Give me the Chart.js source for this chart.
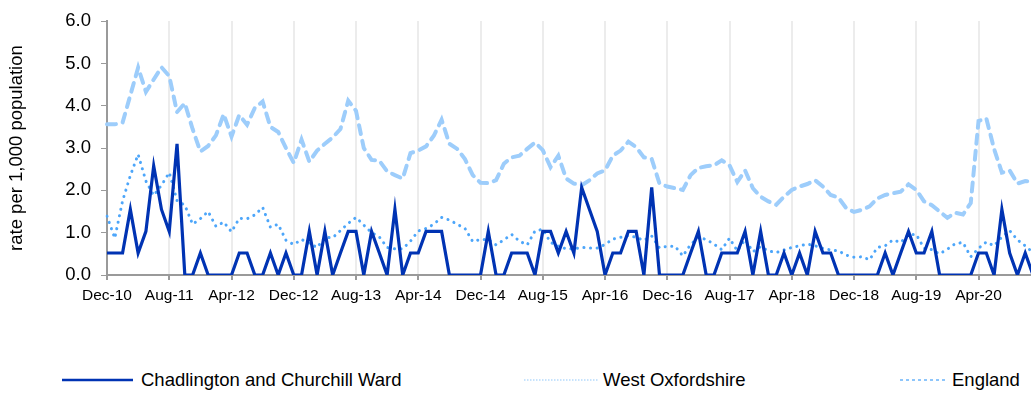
<!DOCTYPE html>
<html>
<head>
<meta charset="utf-8">
<script src="https://cdn.jsdelivr.net/npm/chart.js@4.4.1/dist/chart.umd.min.js"></script>
<style>
  html, body { margin: 0; padding: 0; background: #ffffff; overflow: hidden; width: 1031px; height: 395px; }
  #wrap { position: absolute; left: 0; top: 0; width: 1033px; height: 310px; }
  .key { position: absolute; font: 18.5px "Liberation Sans", Arial, sans-serif; color: #000; white-space: nowrap; line-height: 22px; }
  .swatch { position: absolute; }
</style>
</head>
<body>
<div id="wrap"><canvas id="chart" width="1033" height="310"></canvas></div>

<svg class="swatch" style="left:62px;top:372px" width="72" height="16">
  <line x1="0" y1="8" x2="71" y2="8" stroke="#0033b3" stroke-width="2.5"/>
</svg>
<div class="key" style="left:141px;top:369px">Chadlington and Churchill Ward</div>

<svg class="swatch" style="left:524px;top:372px" width="76" height="16">
  <line x1="0" y1="8" x2="75" y2="8" stroke="#b5dafc" stroke-width="1.5" stroke-dasharray="1.5 1.5"/>
</svg>
<div class="key" style="left:603px;top:369px">West Oxfordshire</div>

<svg class="swatch" style="left:900px;top:372px" width="50" height="16">
  <line x1="0" y1="8" x2="48" y2="8" stroke="#8ec6fb" stroke-width="2" stroke-dasharray="3 3"/>
</svg>
<div class="key" style="left:952px;top:369px">England</div>

<script>
// Monthly periods, Dec 2010 to Nov 2020
const months = [
  'Dec-10','Jan-11','Feb-11','Mar-11','Apr-11','May-11','Jun-11','Jul-11','Aug-11','Sep-11','Oct-11','Nov-11',
  'Dec-11','Jan-12','Feb-12','Mar-12','Apr-12','May-12','Jun-12','Jul-12','Aug-12','Sep-12','Oct-12','Nov-12',
  'Dec-12','Jan-13','Feb-13','Mar-13','Apr-13','May-13','Jun-13','Jul-13','Aug-13','Sep-13','Oct-13','Nov-13',
  'Dec-13','Jan-14','Feb-14','Mar-14','Apr-14','May-14','Jun-14','Jul-14','Aug-14','Sep-14','Oct-14','Nov-14',
  'Dec-14','Jan-15','Feb-15','Mar-15','Apr-15','May-15','Jun-15','Jul-15','Aug-15','Sep-15','Oct-15','Nov-15',
  'Dec-15','Jan-16','Feb-16','Mar-16','Apr-16','May-16','Jun-16','Jul-16','Aug-16','Sep-16','Oct-16','Nov-16',
  'Dec-16','Jan-17','Feb-17','Mar-17','Apr-17','May-17','Jun-17','Jul-17','Aug-17','Sep-17','Oct-17','Nov-17',
  'Dec-17','Jan-18','Feb-18','Mar-18','Apr-18','May-18','Jun-18','Jul-18','Aug-18','Sep-18','Oct-18','Nov-18',
  'Dec-18','Jan-19','Feb-19','Mar-19','Apr-19','May-19','Jun-19','Jul-19','Aug-19','Sep-19','Oct-19','Nov-19',
  'Dec-19','Jan-20','Feb-20','Mar-20','Apr-20','May-20','Jun-20','Jul-20','Aug-20','Sep-20','Oct-20','Nov-20'
];

// Months that carry a label on the x axis
const tickLabels = ['Dec-10','Aug-11','Apr-12','Dec-12','Aug-13','Apr-14','Dec-14','Aug-15',
                    'Apr-16','Dec-16','Aug-17','Apr-18','Dec-18','Aug-19','Apr-20'];

const yTicks = [0, 1, 2, 3, 4, 5, 6];

// Rate per 1,000 population
const chadlington = [
  0.52,0.52,0.52,1.55,0.52,1.03,2.58,1.55,1.03,3.10,0,0,
  0.52,0,0,0,0,0.52,0.52,0,0,0.52,0,0.52,
  0,0,1.03,0,1.03,0,0.52,1.03,1.03,0,1.03,0.52,
  0,1.55,0,0.52,0.52,1.03,1.03,1.03,0,0,0,0,
  0,1.03,0,0,0.52,0.52,0.52,0,1.03,1.03,0.52,1.03,
  0.52,2.07,1.55,1.03,0,0.52,0.52,1.03,1.03,0,2.07,0,
  0,0,0,0.52,1.03,0,0,0.52,0.52,0.52,1.03,0,
  1.03,0,0,0.52,0,0.52,0,1.03,0.52,0.52,0,0,
  0,0,0,0,0.52,0,0.52,1.03,0.52,0.52,1.03,0,
  0,0,0,0,0.52,0.52,0,1.55,0.52,0,0.52,0
];

const westOxfordshire = [
  1.39,0.87,1.75,2.35,2.85,2.22,1.88,2.12,2.42,1.76,1.65,1.2,
  1.33,1.5,1.15,1.25,1.02,1.34,1.33,1.42,1.6,1.13,1.2,0.82,
  0.72,0.84,0.75,0.65,0.89,0.88,1.05,1.22,1.36,1.18,1.0,0.9,
  0.65,0.62,0.62,0.8,1.04,1.1,1.2,1.36,1.3,1.2,1.1,0.79,
  0.84,0.84,0.71,0.83,0.96,0.8,0.71,1.04,1.08,0.77,0.68,0.62,
  0.62,0.65,0.64,0.64,0.72,0.85,0.89,0.93,0.89,0.82,0.92,0.64,
  0.68,0.68,0.45,0.72,0.89,0.84,0.73,0.6,0.87,0.57,0.84,0.55,
  0.67,0.57,0.53,0.59,0.65,0.69,0.73,0.69,0.63,0.59,0.57,0.47,
  0.42,0.43,0.36,0.65,0.69,0.83,0.77,0.96,0.96,0.63,0.6,0.5,
  0.61,0.74,0.77,0.43,0.63,0.78,0.69,0.9,1.05,0.83,0.69,0.53
];

const england = [
  3.56,3.56,3.6,4.25,4.9,4.33,4.62,4.91,4.7,3.85,4.06,3.45,
  2.92,3.05,3.3,3.8,3.27,3.78,3.55,3.95,4.1,3.5,3.38,3.0,
  2.65,3.2,2.68,2.94,3.1,3.25,3.45,4.12,3.88,3.0,2.72,2.7,
  2.45,2.36,2.28,2.88,2.94,3.04,3.29,3.67,3.1,2.98,2.74,2.36,
  2.18,2.17,2.24,2.63,2.78,2.82,2.98,3.13,2.95,2.55,2.82,2.28,
  2.16,2.12,2.24,2.4,2.47,2.82,2.94,3.15,3.02,2.78,2.74,2.16,
  2.09,2.05,2.01,2.36,2.53,2.57,2.59,2.71,2.59,2.2,2.47,2.05,
  1.85,1.74,1.66,1.85,2.01,2.09,2.15,2.24,2.09,1.89,1.83,1.58,
  1.49,1.54,1.62,1.81,1.89,1.93,1.97,2.14,2.01,1.74,1.65,1.5,
  1.35,1.47,1.43,1.7,3.64,3.7,2.98,2.42,2.47,2.16,2.22,2.2
];

const FONT = '"Liberation Sans", Arial, sans-serif';
const AXIS_GREY = '#9a9a9a';

new Chart(document.getElementById('chart'), {
  type: 'line',
  data: {
    labels: months,
    datasets: [
      {
        label: 'Chadlington and Churchill Ward',
        data: chadlington,
        borderColor: '#0033b3',
        borderWidth: 3.2,
        pointRadius: 0,
        tension: 0,
        borderJoinStyle: 'miter'
      },
      {
        label: 'West Oxfordshire',
        data: westOxfordshire,
        borderColor: '#4da6fa',
        borderWidth: 3,
        borderDash: [0.1, 6.5],
        borderCapStyle: 'round',
        pointRadius: 0,
        tension: 0
      },
      {
        label: 'England',
        data: england,
        borderColor: '#9dcdfb',
        borderWidth: 4,
        borderDash: [9, 7],
        borderCapStyle: 'round',
        pointRadius: 0,
        tension: 0
      }
    ]
  },
  options: {
    responsive: false,
    animation: false,
    events: [],
    layout: { padding: { top: 17, right: 0, bottom: 0, left: 0 } },
    plugins: { legend: { display: false }, tooltip: { enabled: false } },
    scales: {
      x: {
        ticks: {
          autoSkip: false,
          maxRotation: 0,
          minRotation: 0,
          padding: 6,
          color: '#000',
          font: { family: FONT, size: 15.5 },
          callback: (value, index) => tickLabels.includes(months[index]) ? months[index] : null
        },
        grid: { color: '#ececec', lineWidth: 2, tickColor: AXIS_GREY, tickLength: 5 },
        border: { color: AXIS_GREY, width: 2 },
        afterFit: (scale) => { scale.height = 35; }
      },
      y: {
        min: 0,
        max: 6,
        afterBuildTicks: (scale) => { scale.ticks = yTicks.map(v => ({ value: v })); },
        ticks: {
          color: '#000',
          padding: 10,
          font: { family: FONT, size: 18.5 },
          callback: (value) => Number(value).toFixed(1)
        },
        grid: { drawOnChartArea: false, tickColor: AXIS_GREY, tickLength: 6 },
        border: { color: AXIS_GREY, width: 2 },
        title: {
          display: true,
          text: 'rate per 1,000 population',
          color: '#000',
          font: { family: FONT, size: 18.5 },
          padding: { top: 6, bottom: 0 }
        },
        afterFit: (scale) => { scale.width = 107; }
      }
    }
  }
});
</script>
</body>
</html>
